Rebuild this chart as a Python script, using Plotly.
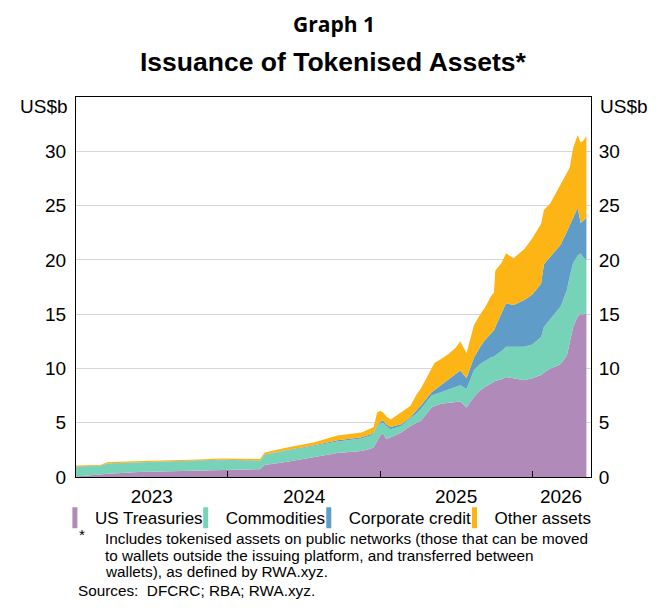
import plotly.graph_objects as go

# Values (US$b), stacked in legend order
dates = [
    "2023-01-01", "2023-02-28", "2023-03-19", "2023-05-31", "2023-08-15",
    "2023-10-20", "2023-12-14", "2024-03-18", "2024-03-29", "2024-05-22",
    "2024-07-27", "2024-09-20", "2024-11-17", "2024-12-09", "2024-12-16",
    "2024-12-24", "2025-01-01", "2025-01-08", "2025-01-15", "2025-01-26",
    "2025-02-20", "2025-03-14", "2025-03-29", "2025-04-09", "2025-05-04",
    "2025-05-11", "2025-05-26", "2025-06-13", "2025-07-01", "2025-07-12",
    "2025-07-27", "2025-08-14", "2025-08-29", "2025-09-09", "2025-09-23",
    "2025-10-01", "2025-10-04", "2025-10-19", "2025-10-30", "2025-11-17",
    "2025-12-13", "2026-01-01", "2026-01-22", "2026-01-29", "2026-02-13",
    "2026-02-27", "2026-03-10", "2026-03-25", "2026-04-01", "2026-04-09",
    "2026-04-20", "2026-04-27", "2026-05-04", "2026-05-11",
]
us_treasuries = [
    0.05, 0.25, 0.30, 0.47, 0.52, 0.56, 0.64, 0.72, 1.10, 1.40,
    1.84, 2.20, 2.40, 2.60, 2.75, 3.30, 3.85, 4.00, 3.50, 3.66,
    4.10, 4.70, 4.95, 5.20, 6.40, 6.55, 6.75, 6.86, 6.90, 6.95,
    6.40, 7.40, 8.00, 8.30, 8.60, 8.80, 8.85, 9.00, 9.20, 9.10,
    8.90, 9.10, 9.40, 9.60, 10.0, 10.2, 10.4, 11.2, 12.3, 13.8,
    14.8, 15.0, 15.0, 15.1,
]
commodities = [
    0.88, 0.75, 0.94, 0.86, 0.88, 0.93, 0.91, 0.75, 0.95, 1.05,
    1.01, 1.08, 1.15, 1.23, 1.25, 1.30, 1.10, 1.00, 1.20, 0.74,
    0.60, 0.70, 0.90, 1.10, 1.10, 1.05, 1.05, 1.14, 1.40, 1.50,
    1.70, 2.45, 2.40, 2.40, 2.40, 2.30, 2.35, 2.60, 2.80, 2.90,
    3.10, 3.10, 3.50, 4.25, 4.60, 5.00, 5.30, 6.00, 6.20, 5.90,
    5.60, 5.60, 5.20, 4.90,
]
corporate_credit = [
    0.03, 0.03, 0.03, 0.03, 0.03, 0.03, 0.03, 0.03, 0.03, 0.04,
    0.07, 0.10, 0.10, 0.10, 0.10, 0.10, 0.15, 0.20, 0.15, 0.20,
    0.15, 0.10, 0.25, 0.30, 0.30, 0.40, 0.60, 0.90, 1.10, 1.35,
    1.00, 1.15, 1.60, 1.90, 2.20, 2.40, 2.60, 3.50, 4.00, 3.85,
    4.30, 4.60, 4.90, 5.75, 5.70, 5.70, 5.70, 5.40, 4.70, 4.10,
    4.40, 2.80, 3.40, 3.85,
]
other_assets = [
    0.09, 0.07, 0.11, 0.09, 0.07, 0.10, 0.12, 0.16, 0.17, 0.23,
    0.28, 0.45, 0.45, 0.52, 0.50, 1.25, 1.00, 0.75, 0.75, 0.70,
    1.10, 1.05, 1.50, 1.60, 2.20, 2.50, 2.45, 2.40, 2.50, 2.70,
    2.30, 3.00, 3.00, 3.00, 3.40, 3.50, 5.20, 4.60, 4.60, 4.30,
    4.70, 5.20, 5.50, 5.00, 4.90, 5.25, 5.60, 5.30, 5.30, 6.50,
    6.70, 7.40, 7.40, 7.55,
]

series_names = ["US Treasuries", "Commodities", "Corporate credit", "Other assets"]
series_colors = ["#b08bb9", "#76d3b8", "#5f9cc8", "#fdb515"]

year_labels = ["2023", "2024", "2025", "2026"]
year_label_pos = ["2023-07-02", "2024-07-02", "2025-07-02", "2026-03-11"]
year_starts = ["2024-01-01", "2025-01-01", "2026-01-01"]
x_range = ["2023-01-01", "2026-05-22"]

y_ticks = [0, 5, 10, 15, 20, 25, 30]

FONT = "Liberation Sans, Arial, sans-serif"

# one small legend per series so each entry sits where the original has it
legend_ids = ["legend", "legend2", "legend3", "legend4"]
legend_x = [-0.041, 0.213, 0.452, 0.735]

fig = go.Figure()

for name, vals, color, leg in zip(series_names,
                                  [us_treasuries, commodities, corporate_credit, other_assets],
                                  series_colors, legend_ids):
    fig.add_trace(go.Scatter(
        x=dates, y=vals, name=name, stackgroup="one", mode="lines",
        line=dict(width=0, color=color), fillcolor=color,
        showlegend=False, hoverinfo="x+y+name",
    ))
    # legend-only entry with a tall narrow swatch
    fig.add_trace(go.Scatter(
        x=[None], y=[None], name=name, mode="markers", legend=leg,
        marker=dict(symbol="line-ns", size=15, line=dict(width=11, color=color)),
        showlegend=True,
    ))

# empty trace so the right axis gets drawn
fig.add_trace(go.Scatter(x=[None], y=[None], yaxis="y2", showlegend=False))

legend_style = dict(orientation="h", xanchor="left", y=-0.1087, yanchor="middle",
                    font=dict(size=17), itemsizing="trace", bgcolor="rgba(0,0,0,0)")

fig.update_layout(
    width=664, height=602,
    margin=dict(l=68, r=81, t=89, b=133),
    paper_bgcolor="white", plot_bgcolor="white",
    font=dict(family=FONT, size=17, color="black"),
    showlegend=True,
    xaxis=dict(
        type="date", range=x_range, showgrid=False,
        showline=True, linecolor="black", linewidth=1, mirror=True,
        tickmode="array", tickvals=year_label_pos, ticktext=year_labels,
        ticks="", ticklabelstandoff=2, tickfont=dict(size=19),
        minor=dict(tickmode="array", tickvals=year_starts, ticks="inside",
                   ticklen=6, tickcolor="black", tickwidth=1, showgrid=False),
    ),
    yaxis=dict(
        range=[0, 35], tickmode="array", tickvals=y_ticks,
        showgrid=True, gridcolor="#d6d6d6", gridwidth=1, zeroline=False,
        showline=True, linecolor="black", linewidth=1,
        ticks="", ticklabelstandoff=5, tickfont=dict(size=19),
    ),
    yaxis2=dict(
        range=[0, 35], tickmode="array", tickvals=y_ticks, overlaying="y",
        side="right", showgrid=False, zeroline=False,
        showline=True, linecolor="black", linewidth=1,
        ticks="", ticklabelstandoff=3, tickfont=dict(size=19),
    ),
)
for leg, lx in zip(legend_ids, legend_x):
    fig.update_layout({leg: dict(legend_style, x=lx)})

note_lines = [
    "Includes tokenised assets on public networks (those that can be moved",
    "to wallets outside the issuing platform, and transferred between",
    "wallets), as defined by RWA.xyz.",
]
note_y = [-0.1613, -0.2053, -0.2482]

annotations = [
    dict(text="<b>Graph 1</b>", x=0.5, y=1.2342, yanchor="top",
         font=dict(family="Open Sans, sans-serif", size=21)),
    dict(text="<b>Issuance of Tokenised Assets*</b>", x=0.5, y=1.092, font=dict(size=26.5)),
    dict(text="US$b", x=-0.0117, xanchor="right", y=0.974, font=dict(size=19)),
    dict(text="US$b", x=1.0136, xanchor="left", y=0.974, font=dict(size=19)),
    dict(text="*", x=0.0025, xanchor="left", y=-0.1526, font=dict(size=15.3)),
    dict(text="Sources:  DFCRC; RBA; RWA.xyz.", x=0.0, xanchor="left", y=-0.2992,
         font=dict(size=15.3)),
]
for line, ly in zip(note_lines, note_y):
    annotations.append(dict(text=line, x=0.053, xanchor="left", y=ly, font=dict(size=15.3)))

for a in annotations:
    a.setdefault("xanchor", "center")
    a.setdefault("yanchor", "middle")
    fig.add_annotation(xref="paper", yref="paper", showarrow=False, **a)

fig.write_html("out.html")
